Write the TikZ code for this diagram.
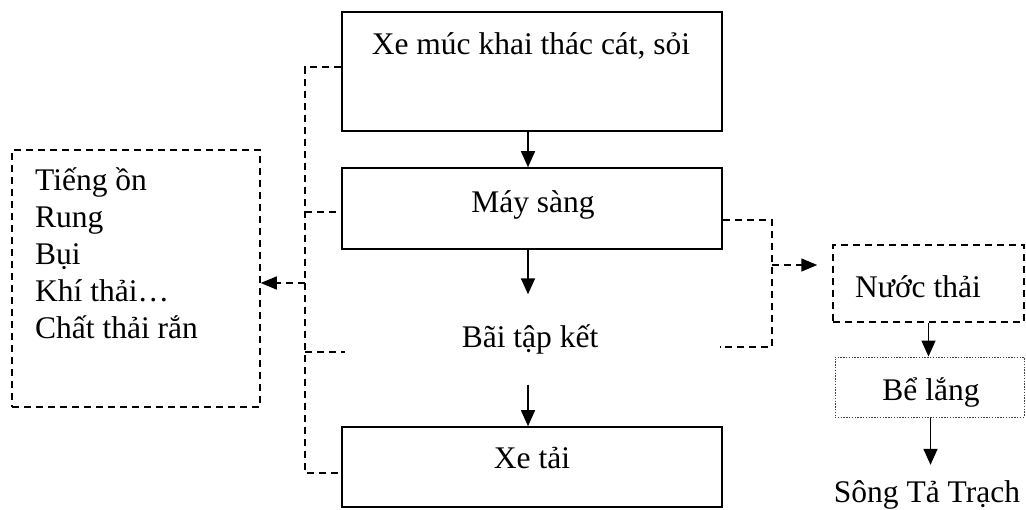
\documentclass[tikz,border=0pt]{standalone}
\usepackage{fontspec}
\setmainfont{Liberation Serif}
\usetikzlibrary{arrows.meta}
\begin{document}
\begin{tikzpicture}[x=1pt,y=-1pt,
  every node/.style={font=\fontsize{31.5}{37}\selectfont, inner sep=0pt},
  solidbox/.style={draw, line width=1.6pt},
  dashbox/.style={draw, line width=1.5pt, dash pattern=on 7pt off 5pt},
  dotbox/.style={draw=black!75, line width=1pt, dash pattern=on 1.4pt off 1.4pt},
  flow/.style={line width=1.5pt, -{Triangle[length=16pt,width=14pt]}},
  dflow/.style={line width=1.5pt, dash pattern=on 7pt off 5pt, -{Triangle[length=16pt,width=13pt]}},
  dline/.style={line width=1.5pt, dash pattern=on 7pt off 5pt}]
\fill[white] (0,0) rectangle (1026,509);
\useasboundingbox (0,0) rectangle (1026,509);

% main process chain
\node[solidbox, minimum width=380pt, minimum height=119pt] (xm) at (532,71.5) {};
\node[anchor=base] (xmt) at (531,54) {Xe múc khai thác cát, sỏi};
\node[solidbox, minimum width=380pt, minimum height=81pt] (ms) at (532,208.5) {};
\node[anchor=base] (mst) at (533,212) {Máy sàng};
\node[minimum height=90pt, text height=22pt, text depth=7pt] (bt) at (530,339.5) {Bãi tập kết};
\node[solidbox, minimum width=380pt, minimum height=80pt] (xt) at (532,467) {};
\node[anchor=base] (xtt) at (532,468) {Xe tải};

\draw[flow] ([xshift=-4pt]xm.south) -- ([xshift=-4pt]xm.south |- ms.north);
\draw[flow] ([xshift=-4pt]ms.south) -- ([xshift=-4pt]ms.south |- bt.north);
\draw[flow] ([xshift=-2pt]bt.south) -- ([xshift=-2pt]bt.south |- xt.north);

% emissions collected on the left
\node[dashbox, minimum width=248pt, minimum height=257pt] (lb) at (136,278.5) {};
\node[anchor=base west, align=left] (lbt) at (35,338) {Tiếng ồn\\Rung\\Bụi\\Khí thải…\\Chất thải rắn};

\coordinate (b1) at (305,67);
\coordinate (b2) at (305,212);
\coordinate (b3) at (305,352);
\coordinate (b4) at (305,473);
\coordinate (b5) at (305,283);
\coordinate (s3) at (345,352);
\draw[dline] (b1 -| xm.west) -- (b1) -- (b4) -- (b4 -| xt.west);
\draw[dline] (b2) -- (b2 -| ms.west);
\draw[dline] (b3) -- (s3);
\draw[dflow] (b5) -- (b5 -| lb.east);

% waste water on the right
\node[dashbox, minimum width=191pt, minimum height=77pt] (nt) at (928.5,283.5) {};
\node[anchor=base] (ntt) at (918,297) {Nước thải};
\node[dotbox, minimum width=189pt, minimum height=60pt] (bl) at (929.5,387) {};
\node[anchor=base] (blt) at (931,400) {Bể lắng};
\node[anchor=base, text height=37pt] (so) at (927,502) {Sông Tả Trạch};

\coordinate (r1) at (772,220);
\coordinate (r2) at (772,347);
\coordinate (r3) at (720,347);
\coordinate (r4) at (772,265);
\draw[dline] (r1 -| ms.east) -- (r1) -- (r2) -- (r3);
\draw[dflow, shorten >=15pt] (r4) -- (r4 -| nt.west);
\draw[flow] (nt.south) -- (nt.south |- bl.north);
\draw[flow] ([xshift=1pt]bl.south) -- ([xshift=1pt]bl.south |- so.north);
\end{tikzpicture}
\end{document}
